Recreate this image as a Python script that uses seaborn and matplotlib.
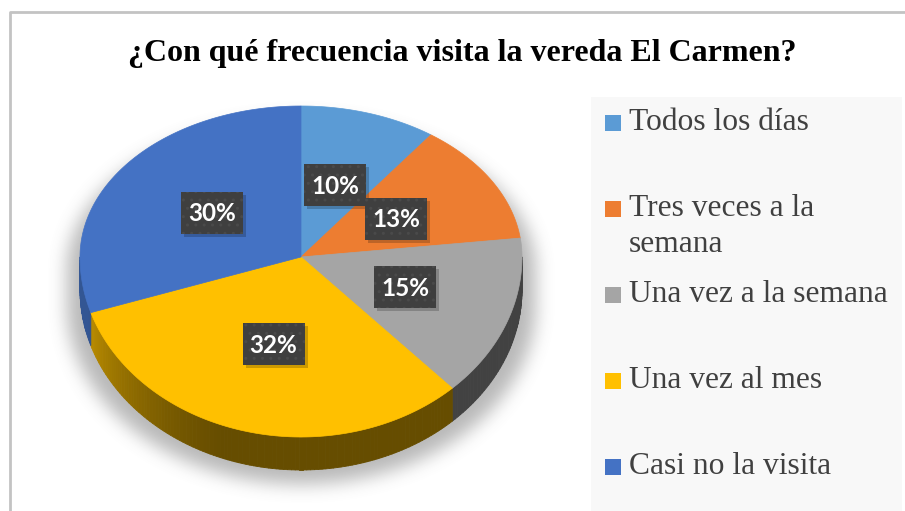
import textwrap
import numpy as np
import matplotlib
matplotlib.use("Agg")
import matplotlib.pyplot as plt
from matplotlib.patches import Polygon, Rectangle
from matplotlib.collections import PolyCollection
from matplotlib.path import Path
import seaborn as sns

title = "¿Con qué frecuencia visita la vereda El Carmen?"
categories = ["Todos los días", "Tres veces a la semana", "Una vez a la semana",
              "Una vez al mes", "Casi no la visita"]
percentages = [10, 13, 15, 32, 30]
colors = ["#5b9bd5", "#ed7d31", "#a5a5a5", "#ffc000", "#4472c4"]

sns.set_theme(style="white")
plt.rcParams["font.family"] = ["Liberation Serif", "DejaVu Serif"]
palette = sns.color_palette(colors)

W, H = 905, 511
fig = plt.figure(figsize=(W / 100, H / 100), dpi=100)
ax = fig.add_axes([0, 0, 1, 1])
ax.set_xlim(0, W)
ax.set_ylim(H, 0)
ax.axis("off")

# tilted pie geometry (pixel units)
cx, cy = 301, 257
rx, ry_up, ry_dn = 221, 151, 180
depth = 33


def rim(theta_deg, drop=0.0):
    t = np.radians(theta_deg)
    c = np.cos(t)
    ry = np.where(c >= 0, ry_up, ry_dn)
    return cx + rx * np.sin(t), cy - ry * c + drop


bounds = np.concatenate([[0], np.cumsum(percentages)]) / sum(percentages) * 360

# chart frame + legend panel
ax.plot([9.5, 9.5, W], [H, 12.5, 12.5], color="#c3c3c3", lw=2, zorder=0)
ax.add_patch(Rectangle((591, 97), 311, 430, facecolor="#f8f8f8", lw=0, zorder=0))

# soft shadow under the pie
th = np.linspace(0, 360, 721)
xt, yt = rim(th)
front = (th >= 90) & (th <= 270)
foot = np.column_stack([cx + (xt - cx) * 1.06, np.where(front, yt + depth, yt) + 14])
gx, gy = np.meshgrid(np.arange(W) + 0.5, np.arange(H) + 0.5)
mask = Path(foot).contains_points(np.column_stack([gx.ravel(), gy.ravel()]))
mask = mask.reshape(H, W).astype(float)


def box_blur(a, r, axis):
    pad = [(0, 0), (0, 0)]
    pad[axis] = (r + 1, r)
    cs = np.cumsum(np.pad(a, pad, mode="edge"), axis=axis)
    if axis == 0:
        return (cs[2 * r + 1:] - cs[:-2 * r - 1]) / (2 * r + 1)
    return (cs[:, 2 * r + 1:] - cs[:, :-2 * r - 1]) / (2 * r + 1)


for _ in range(3):
    mask = box_blur(mask, 8, 0)
    mask = box_blur(mask, 8, 1)
shadow = np.zeros((H, W, 4))
shadow[..., :3] = 0.45
shadow[..., 3] = 0.5 * mask
ax.imshow(shadow, extent=(0, W, H, 0), zorder=1, interpolation="bilinear")
ax.set_xlim(0, W)
ax.set_ylim(H, 0)


def shade(t):
    return 0.40 + 0.35 * np.clip((t - 200) / 55, 0, 1) ** 1.3


# side wall of the front half
polys, fcs = [], []
for i in range(len(percentages)):
    a0, a1 = max(bounds[i], 90), min(bounds[i + 1], 270)
    if a1 <= a0:
        continue
    steps = np.linspace(a0, a1, int(np.ceil(a1 - a0)) + 1)
    base = np.array(palette[i])
    for t0, t1 in zip(steps[:-1], steps[1:]):
        x0, y0 = rim(t0)
        x1, y1 = rim(t1)
        polys.append([(x0, y0), (x1, y1), (x1, y1 + depth), (x0, y0 + depth)])
        fcs.append(base * shade((t0 + t1) / 2))
ax.add_collection(PolyCollection(polys, facecolors=fcs, edgecolors=fcs,
                                 linewidths=0.6, zorder=2))

# top surface
for i in range(len(percentages)):
    t = np.linspace(bounds[i], bounds[i + 1], max(int(bounds[i + 1] - bounds[i]) * 2, 2))
    xs, ys = rim(t)
    pts = np.column_stack([np.r_[cx, xs], np.r_[cy, ys]])
    ax.add_patch(Polygon(pts, closed=True, facecolor=palette[i], edgecolor=palette[i],
                         linewidth=0.5, zorder=3))

# data labels
for i, p in enumerate(percentages):
    mid = np.radians((bounds[i] + bounds[i + 1]) / 2)
    ry = ry_up if np.cos(mid) >= 0 else ry_dn
    lx = cx + 0.5 * rx * np.sin(mid)
    ly = cy - 0.5 * ry * np.cos(mid)
    ax.add_patch(Rectangle((lx - 28, ly - 18), 62, 42, facecolor="black", alpha=0.2,
                           lw=0, zorder=4))
    ax.add_patch(Rectangle((lx - 31, ly - 21), 62, 42, facecolor="#3f3f3f",
                           edgecolor="#4a4a4a", hatch="..", lw=0, zorder=5))
    ax.text(lx, ly + 1, f"{p}%", ha="center", va="center", color="white", fontsize=17.5,
            fontweight="bold", family=["Lato", "DejaVu Sans"], zorder=6)

# legend
for i, label in enumerate(categories):
    yc = 123 + 86 * i
    ax.add_patch(Rectangle((605, yc - 8), 16, 16, facecolor=palette[i], lw=0, zorder=3))
    for j, line in enumerate(textwrap.wrap(label, 19)):
        ax.text(629, yc + 35 * j, line, ha="left", va="center", fontsize=22.7,
                color="#404040", zorder=3)

ax.text(462, 53, title, ha="center", va="center", fontsize=23, fontweight="bold",
        color="black")

fig.savefig("out.png", dpi=100)
